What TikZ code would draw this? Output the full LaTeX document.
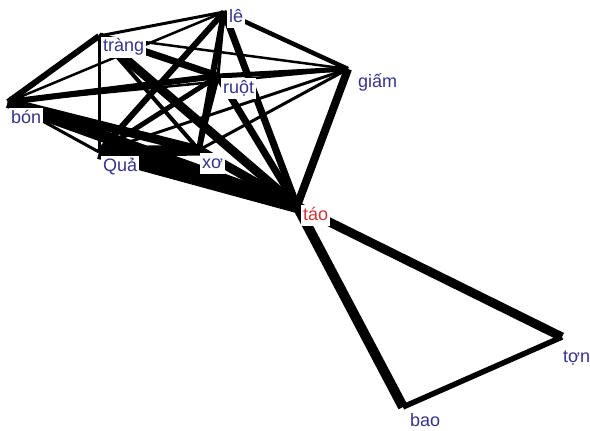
\documentclass[tikz,border=0pt]{standalone}
\usepackage{fontspec}
\newfontfamily\wordfont{Liberation Sans}
\usepackage{xcolor}
\usetikzlibrary{calc}
\definecolor{wordblue}{RGB}{52,52,140}
\definecolor{wordred}{RGB}{205,55,55}

\begin{document}
\begin{tikzpicture}[
  x=1pt, y=-1pt,
  vtx/.style={coordinate},
  lnk/.style={line width=#1pt, black},
  lbl/.style={fill=white, inner sep=2pt, text height=13pt, text depth=4pt,
              font=\wordfont\fontsize{18}{20}\selectfont, text=wordblue},
  hot/.style={lbl, text=wordred},
  edge lbl/.style={lbl, inner sep=1pt},
]
\useasboundingbox[fill=white] (0,0) rectangle (590,431);

%% ---- word positions -------------------------------------------------------
\node[vtx] (le)    at (224,12)  {};
\node[vtx] (trang) at (99,36)   {};
\node[vtx] (giam)  at (348,69)  {};
\node[vtx] (ruot)  at (218,76)  {};
\node[vtx] (bon)   at (8,102)   {};
\node[vtx] (qua)   at (99,152)  {};
\node[vtx] (xo)    at (199,150) {};
\node[vtx] (tao)   at (297,206) {};
\node[vtx] (ton)   at (562,337) {};
\node[vtx] (bao)   at (403,407) {};

%% ---- links of le ----------------------------------------------------------
\draw[lnk=3]   (le) -- (trang);
\draw[lnk=4.5] (le) -- (giam);
\draw[lnk=3]   (le) -- (ruot);
\draw[lnk=2.5] (le) -- (bon);
\draw[lnk=6]   (le) -- (qua);
\draw[lnk=6]   (le) -- (xo);
\draw[lnk=7]   (le) -- (tao);

%% ---- links of trang -------------------------------------------------------
\draw[lnk=2.5] (trang) -- (giam);
\draw[lnk=7]   (trang) -- (ruot);
\draw[lnk=6]   (trang) -- (bon);
\draw[lnk=3]   (trang) -- (qua);
\draw[lnk=4]   (trang) -- (xo);
\draw[lnk=9]   (trang) -- (tao);

%% ---- links of giam --------------------------------------------------------
\draw[lnk=5]   (giam) -- (ruot);
\draw[lnk=2.5] (giam) -- (bon);
\draw[lnk=3]   (giam) -- (qua);
\draw[lnk=3]   (giam) -- (xo);
\draw[lnk=8]   (giam) -- (tao);

%% ---- links of ruot --------------------------------------------------------
\draw[lnk=6]   (ruot) -- (bon);
\draw[lnk=5]   (ruot) -- (qua);
\draw[lnk=4]   (ruot) -- (xo);
\draw[lnk=7]   (ruot) -- (tao);

%% ---- links of bon, qua, xo ------------------------------------------------
\draw[lnk=3]   (bon) -- (qua);
\draw[lnk=9]   (bon) -- (xo);
\draw[lnk=12]  (bon) -- (tao);
\draw[lnk=11]  (qua) -- (xo);
\draw[lnk=14]  (qua) -- (tao);
\draw[lnk=9]   (xo)  -- (tao);

%% ---- the lower triangle ---------------------------------------------------
\draw[lnk=9]   (tao) -- (ton);
\draw[lnk=10]  (tao) -- (bao);
\draw[lnk=5.5] (bao) -- (ton);

%% ---- words ----------------------------------------------------------------
\node[lbl, anchor=base west] (leword)    at ($(le)+(3,10)$)    {lê};
\node[lbl, anchor=base west] (trangword) at ($(trang)+(2,16)$) {tràng};
\node[lbl, anchor=base west] (giamword)  at ($(giam)+(8,18)$)  {giấm};
\node[lbl, anchor=base west] (ruotword)  at ($(ruot)+(3,17)$)  {ruột};
\node[lbl, anchor=base west] (bonword)   at ($(bon)+(1,21)$)   {bón};
\node[lbl, anchor=base west] (quaword)   at ($(qua)+(2,19)$)   {Quả};
\node[lbl, anchor=base west] (xoword)    at ($(xo)+(1,18)$)    {xơ};
\node[hot, anchor=base west] (taoword)   at ($(tao)+(4,14)$)   {táo};
\node[edge lbl, anchor=base west] (tonword) at ($(ton)+(0,25)$) {tợn};
\node[edge lbl, anchor=base west] (baoword) at ($(bao)+(6,19)$) {bao};

\end{tikzpicture}
\end{document}
